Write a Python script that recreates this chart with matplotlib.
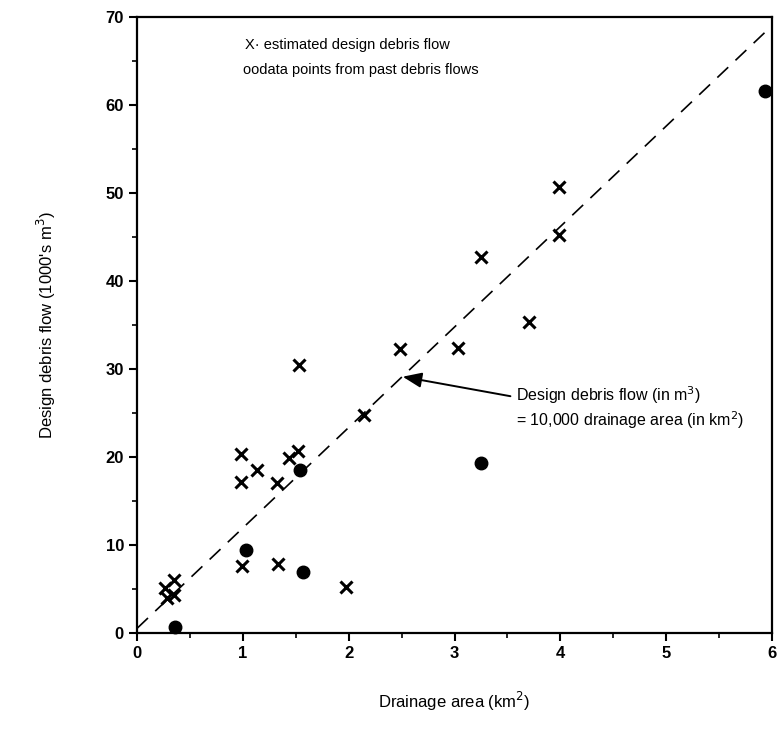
import matplotlib.pyplot as plt

# estimated design debris flow (x markers)
est_area = [0.26, 0.35, 0.28, 0.35, 0.99, 1.33, 1.97, 0.98, 0.98, 1.13, 1.32,
            1.44, 1.52, 1.53, 2.14, 2.48, 3.03, 3.25, 3.70, 3.99, 3.99]
est_flow = [5.1, 6.0, 4.0, 4.3, 7.6, 7.8, 5.2, 20.3, 17.1, 18.5, 17.0,
            19.9, 20.6, 30.4, 24.7, 32.2, 32.4, 42.7, 35.3, 50.7, 45.2]

# data points from past debris flows (dots)
past_area = [0.36, 1.03, 1.54, 1.57, 3.25, 5.93]
past_flow = [0.6, 9.4, 18.5, 6.9, 19.3, 61.6]

# design line: 10,000 m3 per km2
line_area = [0, 6]
line_flow = [0.5, 69.0]

plt.rcParams['font.family'] = ['Liberation Sans', 'DejaVu Sans']

fig = plt.figure(figsize=(7.79, 7.34), dpi=100)
ax = fig.add_axes([0.176, 0.138, 0.815, 0.839])

ax.plot(line_area, line_flow, color='black', linestyle=(0, (9, 6)), linewidth=1.2)
ax.plot(est_area, est_flow, linestyle='none', marker='x', markersize=8,
        markeredgewidth=2.2, color='black')
ax.plot(past_area, past_flow, linestyle='none', marker='o', markersize=9,
        color='black', clip_on=False)

ax.set_xlim(0, 6)
ax.set_ylim(0, 70)
ax.set_xticks(range(0, 7))
ax.set_yticks(range(0, 71, 10))
ax.set_xticks([i + 0.5 for i in range(6)], minor=True)
ax.set_yticks([i * 10 + 5 for i in range(7)], minor=True)
ax.tick_params(which='major', direction='out', length=6, width=1.5,
               labelsize=12)
ax.tick_params(which='minor', direction='out', length=3.5, width=1.2)
for lab in ax.get_xticklabels() + ax.get_yticklabels():
    lab.set_fontweight('bold')
for s in ax.spines.values():
    s.set_linewidth(1.6)

ax.set_xlabel('Drainage area (km$^2$)', fontsize=12, labelpad=21)
ax.set_ylabel("Design debris flow (1000's m$^3$)", fontsize=12, labelpad=34)

# legend written as text, like the original figure
ax.text(0.170, 0.954, 'X· estimated design debris flow', transform=ax.transAxes,
        fontsize=10.5, va='center', ha='left')
ax.text(0.167, 0.914, 'oodata points from past debris flows', transform=ax.transAxes,
        fontsize=10.5, va='center', ha='left')

ax.annotate('Design debris flow (in m$^3$)\n= 10,000 drainage area (in km$^2$)',
            xy=(2.51, 29.1), xytext=(3.58, 25.6), fontsize=11.5,
            va='center', ha='left', linespacing=1.2,
            arrowprops=dict(arrowstyle='-|>,head_length=1.0,head_width=0.4',
                            color='black', lw=1.4, shrinkA=2, shrinkB=0,
                            relpos=(0, 0.72)))

fig.savefig('out.png', dpi=100)
